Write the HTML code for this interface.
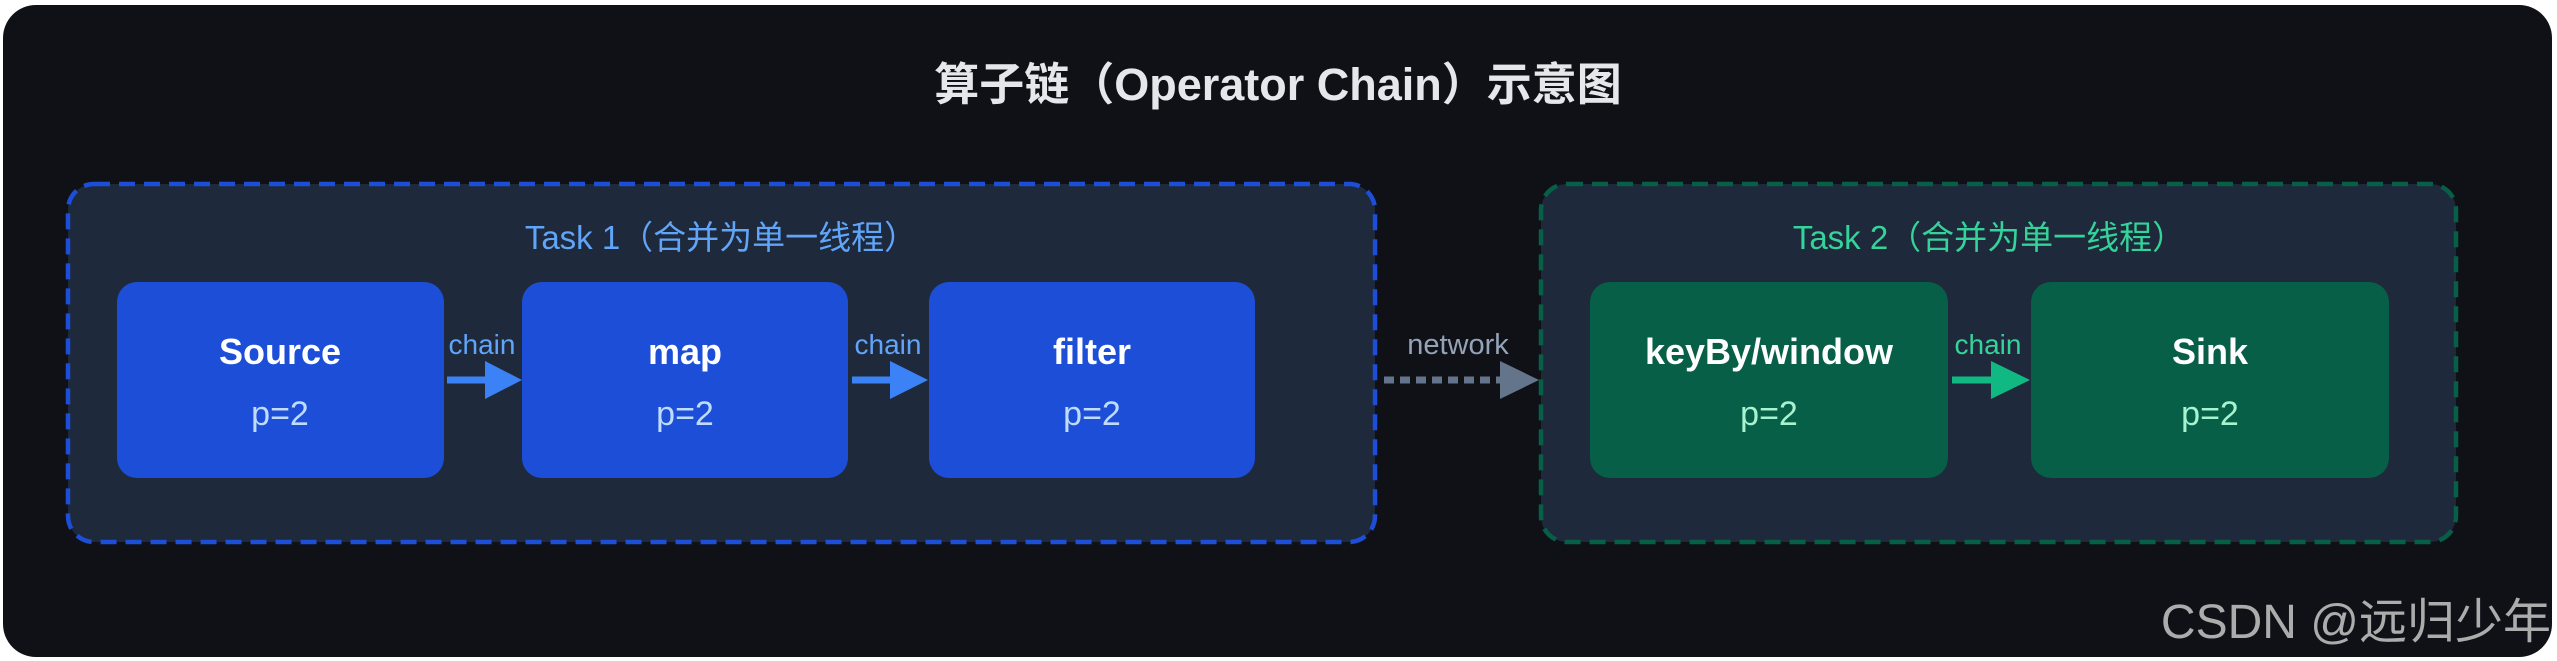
<!DOCTYPE html>
<html><head><meta charset="utf-8"><style>
html,body{margin:0;padding:0;background:#fff;}
svg{display:block}
text{font-family:"Liberation Sans","Noto Sans CJK SC",sans-serif;}
</style></head><body>
<svg width="2557" height="661" viewBox="0 0 2557 661" xmlns="http://www.w3.org/2000/svg">
<rect x="3" y="5" width="2549" height="652" rx="33" fill="#0f1117"/>
<text x="1278" y="100" text-anchor="middle" font-size="45" font-weight="bold" fill="#e5e7eb">算子链（Operator Chain）示意图</text>

<rect x="68" y="184" width="1307" height="358" rx="26" fill="#1e293b" stroke="#1d4ed8" stroke-width="4.5" stroke-dasharray="16 9"/>
<text x="721" y="249" text-anchor="middle" font-size="33" fill="#60a5fa">Task 1（合并为单一线程）</text>

<rect x="1541" y="184" width="915" height="358" rx="26" fill="#1e293b" stroke="#065f46" stroke-width="4.5" stroke-dasharray="16 9"/>
<text x="1989" y="249" text-anchor="middle" font-size="33" fill="#34d399">Task 2（合并为单一线程）</text>

<g font-size="36" font-weight="bold" fill="#fff" text-anchor="middle">
<rect x="117" y="282" width="327" height="196" rx="20" fill="#1d4ed8"/>
<text x="280" y="364">Source</text>
<rect x="522" y="282" width="326" height="196" rx="20" fill="#1d4ed8"/>
<text x="685" y="364">map</text>
<rect x="929" y="282" width="326" height="196" rx="20" fill="#1d4ed8"/>
<text x="1092" y="364">filter</text>
<rect x="1590" y="282" width="358" height="196" rx="20" fill="#065f46"/>
<text x="1769" y="364">keyBy/window</text>
<rect x="2031" y="282" width="358" height="196" rx="20" fill="#065f46"/>
<text x="2210" y="364">Sink</text>
</g>
<g font-size="34" text-anchor="middle">
<text x="280" y="425" fill="#bfdbfe">p=2</text>
<text x="685" y="425" fill="#bfdbfe">p=2</text>
<text x="1092" y="425" fill="#bfdbfe">p=2</text>
<text x="1769" y="425" fill="#a7f3d0">p=2</text>
<text x="2210" y="425" fill="#a7f3d0">p=2</text>
</g>

<g font-size="28" text-anchor="middle">
<line x1="447" y1="380" x2="488" y2="380" stroke="#3b82f6" stroke-width="7"/>
<polygon points="485,361 522,380 485,399" fill="#3b82f6"/>
<text x="482" y="354" fill="#60a5fa">chain</text>
<line x1="852" y1="380" x2="893" y2="380" stroke="#3b82f6" stroke-width="7"/>
<polygon points="890,361 928,380 890,399" fill="#3b82f6"/>
<text x="888" y="354" fill="#60a5fa">chain</text>
<line x1="1952" y1="380" x2="1994" y2="380" stroke="#10b981" stroke-width="7"/>
<polygon points="1991,361 2030,380 1991,399" fill="#10b981"/>
<text x="1988" y="354" fill="#34d399">chain</text>
<line x1="1384" y1="380" x2="1500" y2="380" stroke="#64748b" stroke-width="7" stroke-dasharray="10 6"/>
<polygon points="1500,361 1539,380 1500,399" fill="#64748b"/>
<text x="1458" y="354" font-size="29" fill="#94a3b8">network</text>
</g>

<text x="2551" y="638" text-anchor="end" font-size="48" fill="#c8c8c8" fill-opacity="0.85">CSDN @远归少年</text>
</svg>
</body></html>
